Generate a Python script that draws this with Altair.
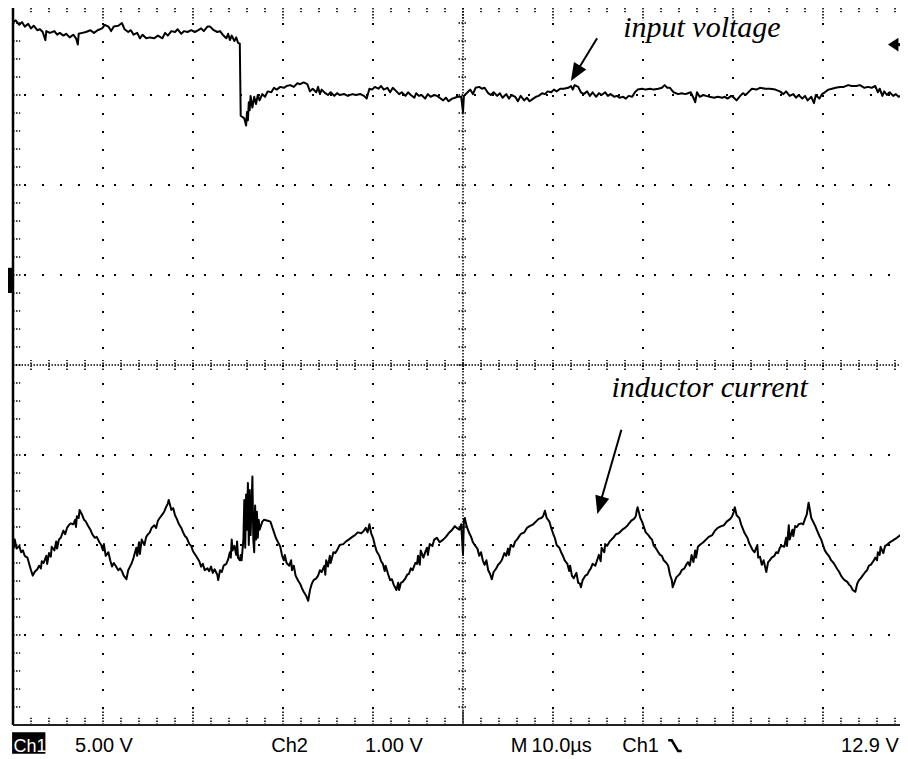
import altair as alt
import pandas as pd

# ---- data: time in microseconds (10 us/div), amplitude in screen divisions ----
ch1_pts = [(-50.0,3.81),(-49.7,3.83),(-49.3,3.78),(-49.0,3.81),(-48.7,3.76),(-48.3,3.79),(-48.0,3.74),(-47.7,3.77),(-47.3,3.72),(-47.0,3.73),(-46.7,3.70),(-46.4,3.61),(-46.3,3.71),(-45.9,3.69),(-45.4,3.71),(-45.1,3.67),(-44.8,3.69),(-44.4,3.66),(-44.1,3.68),(-43.7,3.64),(-43.3,3.67),(-43.0,3.63),(-42.8,3.56),(-42.7,3.68),(-42.3,3.69),(-41.9,3.70),(-41.4,3.72),(-41.0,3.69),(-40.6,3.72),(-40.1,3.74),(-39.8,3.78),(-39.4,3.76),(-39.1,3.71),(-38.8,3.76),(-38.3,3.77),(-37.9,3.80),(-37.6,3.73),(-37.2,3.70),(-36.9,3.72),(-36.6,3.67),(-36.2,3.69),(-35.9,3.63),(-35.6,3.67),(-35.2,3.63),(-34.8,3.64),(-34.3,3.63),(-33.9,3.66),(-33.4,3.63),(-33.1,3.69),(-32.8,3.66),(-32.4,3.71),(-32.0,3.70),(-31.7,3.73),(-31.3,3.68),(-31.0,3.71),(-30.6,3.70),(-30.2,3.72),(-29.8,3.70),(-29.4,3.72),(-29.1,3.74),(-28.8,3.71),(-28.4,3.76),(-28.1,3.76),(-27.7,3.72),(-27.3,3.70),(-27.0,3.71),(-26.7,3.67),(-26.3,3.63),(-26.1,3.68),(-25.9,3.61),(-25.7,3.66),(-25.4,3.60),(-25.2,3.64),(-25.0,3.58),(-24.8,3.57),(-24.7,2.77),(-24.3,2.74),(-24.1,2.66),(-24.0,2.81),(-23.9,2.72),(-23.8,2.92),(-23.7,2.83),(-23.6,2.99),(-23.4,2.86),(-23.2,2.98),(-23.0,2.90),(-22.8,3.00),(-22.6,2.94),(-22.3,3.01),(-22.0,2.98),(-21.7,3.04),(-21.3,3.03),(-21.0,3.08),(-20.7,3.06),(-20.3,3.09),(-19.9,3.08),(-19.6,3.10),(-19.2,3.11),(-18.8,3.09),(-18.4,3.13),(-18.1,3.12),(-17.7,3.14),(-17.3,3.12),(-17.0,3.04),(-16.7,3.07),(-16.3,3.03),(-16.1,3.09),(-15.9,3.01),(-15.7,3.06),(-15.3,3.02),(-15.0,3.00),(-14.7,3.03),(-14.3,2.99),(-14.0,3.02),(-13.7,3.00),(-13.2,3.01),(-12.8,2.99),(-12.3,3.01),(-11.9,3.00),(-11.4,3.01),(-11.0,2.99),(-10.7,2.96),(-10.4,3.07),(-10.1,3.06),(-9.8,3.09),(-9.4,3.07),(-9.1,3.10),(-8.8,3.06),(-8.4,3.08),(-8.1,3.03),(-7.8,3.08),(-7.4,3.04),(-7.1,3.01),(-6.8,3.03),(-6.4,2.99),(-6.1,3.03),(-5.8,3.00),(-5.4,2.97),(-5.2,3.02),(-4.9,2.99),(-4.6,3.00),(-4.2,2.96),(-3.9,3.01),(-3.6,2.98),(-3.2,3.00),(-2.9,2.99),(-2.6,2.97),(-2.2,2.94),(-1.9,2.97),(-1.6,2.93),(-1.2,2.96),(-0.9,2.97),(-0.6,2.98),(-0.2,2.98),(0.0,2.81),(0.1,2.99),(0.4,3.02),(0.8,3.06),(1.1,3.01),(1.4,3.08),(1.8,3.09),(2.1,3.07),(2.4,3.08),(2.8,3.02),(3.1,3.00),(3.4,3.03),(3.8,2.99),(4.1,3.02),(4.4,2.97),(4.8,3.01),(5.1,2.96),(5.4,3.00),(5.8,2.98),(6.1,2.93),(6.4,2.99),(6.8,2.94),(7.1,2.97),(7.4,2.93),(7.8,2.96),(8.1,2.98),(8.4,2.99),(8.8,3.02),(9.1,3.01),(9.4,3.04),(9.8,3.03),(10.1,3.06),(10.4,3.04),(10.8,3.07),(11.2,3.07),(11.7,3.08),(12.0,3.10),(12.2,3.06),(12.4,3.11),(12.8,3.09),(13.1,3.03),(13.4,3.01),(13.8,3.04),(14.1,2.99),(14.4,3.03),(14.8,2.98),(15.1,3.02),(15.4,3.00),(15.8,3.03),(16.1,2.99),(16.4,3.01),(16.8,2.98),(17.1,2.99),(17.4,2.97),(17.8,2.98),(18.1,2.96),(18.4,2.99),(18.8,2.98),(19.1,3.03),(19.4,3.06),(19.9,3.07),(20.3,3.06),(20.8,3.07),(21.2,3.06),(21.7,3.07),(22.1,3.08),(22.4,3.11),(22.7,3.08),(23.0,3.08),(23.4,3.03),(23.9,3.01),(24.3,3.02),(24.7,3.01),(25.0,3.02),(25.3,3.03),(25.6,2.97),(25.8,2.92),(26.0,3.03),(26.3,2.98),(26.7,3.00),(27.0,2.99),(27.4,2.98),(27.9,2.97),(28.3,2.98),(28.8,2.97),(29.1,2.98),(29.4,2.96),(29.8,2.99),(30.1,2.97),(30.4,2.94),(30.8,2.99),(31.1,3.02),(31.4,3.00),(31.8,3.04),(32.1,3.07),(32.6,3.06),(33.0,3.08),(33.6,3.07),(34.1,3.07),(34.7,3.06),(35.2,3.04),(35.6,3.01),(35.9,3.04),(36.3,2.99),(36.7,3.01),(37.0,2.97),(37.3,3.00),(37.7,2.96),(38.0,2.99),(38.3,2.94),(38.7,2.98),(39.0,2.91),(39.2,3.00),(39.6,2.96),(39.9,3.01),(40.2,3.03),(40.6,3.06),(41.0,3.07),(41.4,3.08),(41.9,3.09),(42.3,3.09),(42.8,3.11),(43.2,3.10),(43.7,3.10),(44.1,3.11),(44.6,3.08),(45.0,3.09),(45.4,3.08),(45.8,3.10),(46.1,3.03),(46.3,3.07),(46.6,2.99),(46.8,3.04),(47.1,3.00),(47.4,3.03),(47.8,2.99),(48.1,3.01),(48.4,2.98),(48.8,3.00),(49.1,2.98),(49.4,2.99)]

ch2_pts = [(-50.0,-1.90),(-49.9,-2.03),(-49.8,-1.94),(-49.6,-2.04),(-49.3,-2.01),(-49.1,-2.08),(-48.9,-2.06),(-48.7,-2.12),(-48.4,-2.14),(-48.2,-2.21),(-48.0,-2.28),(-47.8,-2.34),
(-47.6,-2.30),(-47.3,-2.27),(-47.1,-2.23),(-46.9,-2.26),(-46.8,-2.18),(-46.6,-2.20),(-46.3,-2.12),(-46.2,-2.21),(-46.0,-2.09),(-45.8,-2.13),(-45.7,-2.02),(-45.4,-2.06),(-45.2,-1.96),(-45.1,-2.04),(-44.9,-1.94),(-44.7,-1.92),(-44.4,-1.84),(-44.2,-1.88),(-44.0,-1.81),(-43.8,-1.78),(-43.6,-1.76),(-43.3,-1.77),(-43.1,-1.72),(-43.0,-1.80),(-42.9,-1.68),(-42.7,-1.70),(-42.6,-1.61),
(-42.3,-1.67),(-42.1,-1.72),(-41.9,-1.74),(-41.7,-1.78),(-41.4,-1.83),(-41.2,-1.88),(-40.9,-1.92),(-40.7,-1.91),(-40.4,-1.97),(-40.2,-2.00),(-40.0,-2.06),(-39.9,-1.99),(-39.7,-2.12),(-39.4,-2.08),(-39.2,-2.17),(-39.0,-2.24),(-38.8,-2.20),(-38.6,-2.23),(-38.3,-2.28),(-38.1,-2.26),(-37.9,-2.29),(-37.7,-2.34),(-37.4,-2.38),
(-37.2,-2.28),(-37.0,-2.24),(-36.8,-2.20),(-36.6,-2.14),(-36.3,-2.03),(-36.2,-2.12),(-36.0,-1.97),(-35.9,-2.10),(-35.7,-1.94),(-35.4,-2.00),(-35.2,-1.91),(-35.0,-1.88),(-34.8,-1.86),(-34.6,-1.81),(-34.3,-1.78),(-34.1,-1.81),(-33.9,-1.73),(-33.7,-1.70),(-33.4,-1.66),(-33.2,-1.63),(-33.0,-1.58),(-32.8,-1.54),(-32.7,-1.50),
(-32.4,-1.61),(-32.2,-1.59),(-32.0,-1.67),(-31.8,-1.71),(-31.6,-1.76),(-31.3,-1.81),(-31.1,-1.86),(-30.9,-1.90),(-30.7,-1.92),(-30.4,-1.99),(-30.2,-2.01),(-30.0,-2.07),(-29.8,-2.10),(-29.6,-2.13),(-29.3,-2.18),(-29.1,-2.24),(-28.9,-2.21),(-28.7,-2.28),(-28.4,-2.26),(-28.2,-2.29),(-28.0,-2.24),(-27.8,-2.31),(-27.6,-2.27),(-27.3,-2.33),(-27.2,-2.39),
(-27.0,-2.28),(-26.8,-2.30),(-26.6,-2.23),(-26.3,-2.21),(-26.1,-2.16),(-25.9,-2.08),(-25.8,-2.14),(-25.7,-1.94),(-25.6,-2.06),(-25.4,-2.01),(-25.2,-2.11),(-25.1,-1.96),(-25.0,-2.14),(-24.8,-2.17),(-24.7,-2.11),(-24.6,-2.17),(-24.4,-1.94),(-24.3,-1.50),(-24.2,-2.03),(-24.1,-1.44),(-24.0,-1.83),(-23.9,-1.31),(-23.8,-2.00),(-23.7,-1.39),(-23.6,-1.89),(-23.4,-1.24),(-23.3,-1.94),(-23.2,-2.08),(-23.1,-1.56),(-23.0,-1.94),(-22.9,-1.63),(-22.8,-1.92),(-22.7,-1.72),(-22.6,-1.83),(-22.3,-1.74),(-22.1,-1.72),(-21.7,-1.73),(-21.4,-1.74),
(-21.2,-1.80),(-21.0,-1.86),(-20.8,-1.92),(-20.6,-1.96),(-20.3,-2.02),(-20.1,-2.12),(-19.9,-2.17),(-19.8,-2.11),(-19.6,-2.20),(-19.3,-2.23),(-19.1,-2.17),(-19.0,-2.28),(-18.8,-2.23),(-18.6,-2.34),(-18.3,-2.40),(-18.1,-2.43),(-17.9,-2.48),(-17.7,-2.52),(-17.4,-2.57),(-17.2,-2.62),
(-17.0,-2.50),(-16.8,-2.43),(-16.6,-2.39),(-16.3,-2.37),(-16.1,-2.34),(-15.9,-2.28),(-15.7,-2.30),(-15.4,-2.23),(-15.3,-2.33),(-15.2,-2.17),(-15.0,-2.24),(-14.8,-2.12),(-14.7,-2.20),(-14.4,-2.08),(-14.2,-2.09),(-14.0,-2.06),(-13.7,-2.00),(-13.3,-1.99),(-13.0,-1.96),(-12.7,-1.94),(-12.3,-1.91),(-12.0,-1.89),(-11.7,-1.86),(-11.3,-1.87),(-11.0,-1.84),(-10.8,-1.81),(-10.6,-1.86),(-10.4,-1.77),
(-10.2,-1.87),(-10.0,-1.92),(-9.8,-2.00),(-9.6,-2.07),(-9.3,-2.12),(-9.1,-2.18),(-8.9,-2.21),(-8.7,-2.29),(-8.6,-2.23),(-8.3,-2.33),(-8.1,-2.39),(-7.9,-2.38),(-7.7,-2.44),(-7.4,-2.50),(-7.2,-2.42),(-7.1,-2.50),
(-6.9,-2.42),(-6.7,-2.41),(-6.4,-2.37),(-6.2,-2.33),(-6.0,-2.32),(-5.8,-2.26),(-5.6,-2.28),(-5.3,-2.20),(-5.1,-2.21),(-5.0,-2.12),(-4.8,-2.22),(-4.7,-2.06),(-4.4,-2.14),(-4.2,-2.08),(-4.0,-2.03),(-3.9,-2.11),(-3.7,-1.99),(-3.4,-2.01),(-3.2,-1.94),(-2.9,-1.92),(-2.6,-1.97),(-2.2,-1.94),(-1.9,-1.91),(-1.6,-1.87),(-1.2,-1.83),(-0.9,-1.79),(-0.7,-1.81),(-0.4,-1.83),(-0.2,-1.77),(0.0,-2.11),(0.1,-1.72),(0.2,-1.70),
(0.4,-1.79),(0.7,-1.87),(0.9,-1.91),(1.1,-1.97),(1.3,-2.00),(1.6,-2.04),(1.8,-2.12),(2.0,-2.08),(2.2,-2.17),(2.4,-2.22),(2.6,-2.17),(2.8,-2.28),(3.0,-2.32),(3.2,-2.38),
(3.4,-2.30),(3.7,-2.26),(3.9,-2.22),(4.1,-2.20),(4.3,-2.17),(4.6,-2.09),(4.8,-2.12),(5.0,-2.04),(5.1,-2.11),(5.3,-2.00),(5.6,-2.02),(5.8,-1.96),(6.0,-1.94),(6.2,-1.91),(6.4,-1.88),(6.8,-1.86),(7.1,-1.81),(7.4,-1.79),(7.8,-1.77),(8.1,-1.74),(8.4,-1.71),(8.7,-1.70),(8.9,-1.68),(9.1,-1.62),
(9.3,-1.70),(9.6,-1.74),(9.8,-1.81),(10.0,-1.87),(10.2,-1.92),(10.4,-2.00),(10.7,-2.03),(10.9,-2.08),(11.1,-2.12),(11.3,-2.17),(11.6,-2.21),(11.8,-2.29),(11.9,-2.23),(12.1,-2.34),(12.3,-2.37),(12.6,-2.31),(12.8,-2.42),(13.0,-2.43),(13.1,-2.47),
(13.3,-2.39),(13.6,-2.34),(13.8,-2.33),(14.0,-2.29),(14.2,-2.26),(14.4,-2.21),(14.7,-2.23),(14.9,-2.17),(15.1,-2.11),(15.3,-2.18),(15.4,-2.03),(15.7,-2.08),(15.8,-1.99),(16.0,-2.01),(16.3,-1.96),(16.7,-1.92),(17.0,-1.88),(17.3,-1.87),(17.7,-1.83),(18.0,-1.81),(18.3,-1.78),(18.7,-1.73),(19.0,-1.71),(19.2,-1.68),(19.3,-1.62),(19.4,-1.58),
(19.7,-1.70),(19.9,-1.74),(20.1,-1.80),(20.3,-1.86),(20.6,-1.89),(20.8,-1.92),(21.0,-1.94),(21.2,-2.01),(21.4,-2.03),(21.7,-2.08),(21.9,-2.11),(22.1,-2.12),(22.3,-2.17),(22.6,-2.20),(22.8,-2.23),(23.0,-2.33),(23.2,-2.39),(23.3,-2.47),(23.4,-2.44),
(23.7,-2.36),(23.9,-2.34),(24.1,-2.32),(24.3,-2.28),(24.6,-2.26),(24.8,-2.22),(25.0,-2.19),(25.2,-2.23),(25.4,-2.11),(25.6,-2.19),(25.8,-2.06),(25.9,-2.14),(26.1,-2.02),(26.3,-2.00),(26.7,-1.97),(27.0,-1.94),(27.3,-1.91),(27.7,-1.89),(28.0,-1.84),(28.3,-1.81),(28.7,-1.79),(29.0,-1.78),(29.3,-1.74),(29.7,-1.71),(29.9,-1.68),(30.1,-1.63),(30.2,-1.58),
(30.4,-1.67),(30.7,-1.70),(30.9,-1.77),(31.1,-1.82),(31.3,-1.87),(31.6,-1.92),(31.8,-1.98),(32.0,-2.02),(32.2,-2.06),(32.4,-2.08),(32.7,-2.00),(32.8,-2.14),(33.0,-2.13),(33.2,-2.22),(33.4,-2.17),(33.7,-2.30),
(33.9,-2.19),(34.1,-2.17),(34.3,-2.14),(34.6,-2.12),(34.8,-2.08),(35.0,-2.09),(35.2,-2.03),(35.4,-2.01),(35.7,-2.02),(35.9,-1.92),(36.0,-2.01),(36.2,-1.78),(36.3,-1.94),(36.6,-1.83),(36.7,-1.90),(36.9,-1.79),(37.1,-1.80),(37.3,-1.77),(37.6,-1.76),(37.8,-1.77),(38.0,-1.71),(38.2,-1.66),(38.3,-1.59),(38.4,-1.53),
(38.7,-1.70),(38.9,-1.74),(39.1,-1.78),(39.3,-1.83),(39.6,-1.90),(39.8,-1.94),(40.0,-2.00),(40.2,-2.06),(40.4,-2.09),(40.7,-2.13),(40.9,-2.17),(41.1,-2.19),(41.3,-2.22),(41.6,-2.27),(41.8,-2.30),(42.0,-2.34),(42.2,-2.37),(42.4,-2.39),(42.7,-2.41),(42.9,-2.44),(43.1,-2.46),(43.3,-2.50),(43.6,-2.52),
(43.8,-2.43),(44.0,-2.39),(44.2,-2.37),(44.4,-2.34),(44.7,-2.30),(44.9,-2.28),(45.1,-2.23),(45.3,-2.22),(45.6,-2.18),(45.8,-2.14),(46.0,-2.17),(46.1,-2.08),(46.3,-2.11),(46.4,-2.02),(46.7,-2.09),(46.9,-2.01),(47.1,-2.00),(47.3,-1.98),(47.6,-1.96),(47.9,-1.94),(48.2,-1.92),(48.6,-1.89),(48.9,-1.88),(49.2,-1.87),(49.4,-1.86)]

status_labels = ["5.00 V", "Ch2", "1.00 V", "M", "10.0\u00b5s", "Ch1", "12.9 V"]
status_t = [-43.1, -21.3, -10.9, 5.3, 7.6, 17.7, 42.0]

annot_labels = ["input voltage", "inductor current"]
annot_t = [17.8, 16.5]
annot_v = [3.645, -0.36]

# ---- scales ----
XS = alt.Scale(domain=[-50, 49.444], nice=False, zero=False)
YS = alt.Scale(domain=[-4, 4], nice=False, zero=False)

def X(f):
    return alt.X(f, type="quantitative", scale=XS, axis=None)

def Y(f):
    return alt.Y(f, type="quantitative", scale=YS, axis=None)

INK = "#000000"

ch1 = pd.DataFrame([{"t": a, "v": b, "i": k} for k, (a, b) in enumerate(ch1_pts)])
ch2 = pd.DataFrame([{"t": a, "v": b, "i": k} for k, (a, b) in enumerate(ch2_pts)])

major_t = [-40, -30, -20, -10, 10, 20, 30, 40]
major_v = [-3, -2, -1, 1, 2, 3]
minor_t = [-50 + 2 * i for i in range(1, 50)]
minor_v = [round(-4 + 0.2 * i, 1) for i in range(1, 40)]

# graticule dotted lines
grid_v = alt.Chart(pd.DataFrame({"t": major_t})).mark_rule(
    strokeDash=[2, 16], strokeWidth=2, color=INK, strokeCap="butt").encode(x=X("t"))
grid_h = alt.Chart(pd.DataFrame({"v": major_v})).mark_rule(
    strokeDash=[2, 16], strokeWidth=2, color=INK, strokeCap="butt").encode(y=Y("v"))
center_v = alt.Chart(pd.DataFrame({"t": [0]})).mark_rule(
    strokeDash=[1.5, 1.5], strokeWidth=1.5, color=INK).encode(x=X("t"))
center_h = alt.Chart(pd.DataFrame({"v": [0]})).mark_rule(
    strokeDash=[1.5, 1.5], strokeWidth=1.5, color=INK).encode(y=Y("v"))

# tick marks (center cross + edges)
ticks = []
for v in minor_v:
    ticks.append({"t": -0.5, "t2": 0.5, "v": v, "v2": v})
    ln = 1.0 if abs(v - round(v)) < 1e-6 else 0.8
    ticks.append({"t": -50, "t2": -50 + ln, "v": v, "v2": v})
for t in minor_t:
    ticks.append({"t": t, "t2": t, "v": -0.055, "v2": 0.055})
    ln = 0.17 if t % 10 == 0 else 0.08
    ticks.append({"t": t, "t2": t, "v": 4, "v2": 4 - ln})
    ticks.append({"t": t, "t2": t, "v": -4, "v2": -4 + ln})
tick_layer = alt.Chart(pd.DataFrame(ticks)).mark_rule(
    strokeDash=[1.5, 1.5], strokeWidth=1.6, color=INK, strokeCap="butt").encode(
    x=X("t"), x2="t2", y=Y("v"), y2="v2")

# frame
frame_left = alt.Chart(pd.DataFrame({"t": [-50]})).mark_rule(
    strokeWidth=2.5, color=INK).encode(x=X("t"))
frame_bottom = alt.Chart(pd.DataFrame({"v": [-4]})).mark_rule(
    strokeWidth=2, color="#222222").encode(y=Y("v"))
frame_top = alt.Chart(pd.DataFrame({"v": [4]})).mark_rule(
    strokeWidth=2, color="#777777").encode(y=Y("v"))

# traces
line1 = alt.Chart(ch1).mark_line(color=INK, strokeWidth=2, strokeJoin="round").encode(
    x=X("t"), y=Y("v"), order="i:Q")
line2 = alt.Chart(ch2).mark_line(color=INK, strokeWidth=2, strokeJoin="round").encode(
    x=X("t"), y=Y("v"), order="i:Q")

# channel-2 ground marker and trigger level arrow
gnd2 = alt.Chart(pd.DataFrame({"t": [-50.56], "t2": [-50.0], "v": [1.08], "v2": [0.80]})).mark_rect(
    color=INK).encode(x=X("t"), x2="t2", y=Y("v"), y2="v2")
trig_head = alt.Chart(pd.DataFrame({"t": [47.8], "v": [3.56]})).mark_point(
    shape="M-1,0L1,-1.3L1,1.3Z", size=110, filled=True, color=INK, opacity=1).encode(
    x=X("t"), y=Y("v"))
trig_stem = alt.Chart(pd.DataFrame({"t": [48.2], "t2": [49.444], "v": [3.56]})).mark_rule(
    strokeWidth=3, color=INK).encode(x=X("t"), x2="t2", y=Y("v"))

# annotation arrows
arrow_lines = alt.Chart(pd.DataFrame({
    "t": [14.9, 17.6], "t2": [13.0, 15.4], "v": [3.63, -0.72], "v2": [3.32, -1.48]})).mark_rule(
    strokeWidth=2, color=INK).encode(x=X("t"), x2="t2", y=Y("v"), y2="v2")
head1 = alt.Chart(pd.DataFrame({"t": [12.5], "v": [3.24]})).mark_point(
    shape="M0,1L-0.8,-1L0.8,-1Z", size=324, filled=True, color=INK, opacity=1, angle=31).encode(
    x=X("t"), y=Y("v"))
head2 = alt.Chart(pd.DataFrame({"t": [15.2], "v": [-1.56]})).mark_point(
    shape="M0,1L-0.8,-1L0.8,-1Z", size=324, filled=True, color=INK, opacity=1, angle=16).encode(
    x=X("t"), y=Y("v"))

annot = alt.Chart(pd.DataFrame({"t": annot_t, "v": annot_v, "label": annot_labels})).mark_text(
    font="Liberation Serif", fontStyle="italic", fontSize=30, align="left",
    baseline="alphabetic", color=INK).encode(x=X("t"), y=Y("v"), text="label:N")

# status line at the bottom
SFONT = "Liberation Sans Narrow, Liberation Sans, sans-serif"
status = alt.Chart(pd.DataFrame({"t": status_t, "v": [-4.3] * len(status_t), "label": status_labels})).mark_text(
    font=SFONT, fontSize=20, align="left", baseline="alphabetic", color=INK).encode(
    x=X("t"), y=Y("v"), text="label:N")
ch1_box = alt.Chart(pd.DataFrame({"t": [-50.1], "t2": [-46.4], "v": [-4.08], "v2": [-4.32]})).mark_rect(
    color=INK).encode(x=X("t"), x2="t2", y=Y("v"), y2="v2")
ch1_txt = alt.Chart(pd.DataFrame({"t": [-49.95], "v": [-4.3], "label": ["Ch1"]})).mark_text(
    font=SFONT, fontSize=18, align="left", baseline="alphabetic", color="#ffffff").encode(
    x=X("t"), y=Y("v"), text="label:N")
slope = alt.Chart(pd.DataFrame({"t": [22.8, 23.2, 23.9, 24.3], "v": [-4.17, -4.17, -4.29, -4.29],
                                "i": [0, 1, 2, 3]})).mark_line(
    color=INK, strokeWidth=2.5).encode(x=X("t"), y=Y("v"), order="i:Q")

chart = alt.layer(
    grid_v, grid_h, center_v, center_h, tick_layer, frame_left, frame_bottom, frame_top,
    line1, line2, gnd2, trig_head, trig_stem, arrow_lines, head1, head2, annot,
    status, ch1_box, ch1_txt, slope
).properties(
    width=895, height=720,
    autosize=alt.AutoSizeParams(type="none"),
    padding={"left": 5, "top": -3, "right": -8, "bottom": 30},
    background="#ffffff",
).configure_view(stroke=None)

chart.save("out.html", embed_options={"renderer": "svg", "actions": False})
